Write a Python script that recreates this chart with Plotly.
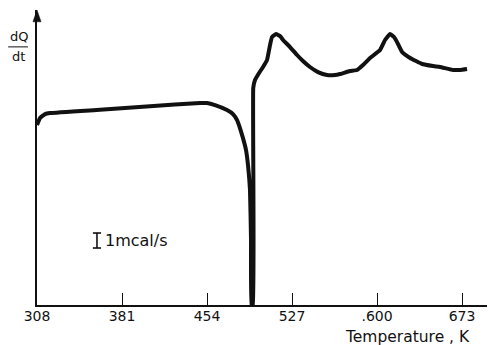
import plotly.graph_objects as go

# Temperature (K) and heat flow dQ/dt (mcal/s, arbitrary zero)
temperature = [308.0, 310.6, 314.9, 319.2, 362.1, 405.0, 448.0, 454.0, 460.9, 471.2,
               476.3, 479.8, 482.3, 484.9, 487.5, 489.2, 490.9, 491.8, 492.2, 493.5,
               493.7, 495.2, 498.7, 502.1, 505.5, 508.1, 509.8, 513.3, 516.7, 519.3,
               525.3, 531.3, 536.4, 542.4, 549.3, 557.0, 563.9, 568.2, 576.8, 582.8,
               588.0, 594.0, 602.6, 606.9, 611.2, 614.6, 617.2, 621.5, 628.4, 638.7,
               648.1, 654.1, 665.3, 671.3, 677.3]
heat_flow = [12.0, 12.47, 12.73, 12.8, 13.02, 13.25, 13.47, 13.47, 13.33, 13.0,
             12.73, 12.33, 11.8, 11.13, 10.33, 9.33, 7.67, 4.33, 0.0, 0.0,
             14.47, 15.0, 15.47, 15.87, 16.33, 17.33, 17.87, 18.07, 17.93, 17.67,
             17.2, 16.67, 16.27, 15.87, 15.53, 15.33, 15.33, 15.4, 15.6, 15.67,
             16.0, 16.47, 17.0, 17.67, 18.07, 17.87, 17.53, 16.87, 16.47, 16.07,
             15.93, 15.87, 15.67, 15.67, 15.73]

tick_vals = [308, 381, 454, 527, 600, 673]
tick_text = ["308", "381", "454", "527", ".600", "673"]

x_range = [308, 695.3]
y_range = [0, 19.67]

# scale bar: 1 mcal/s
scale_x = 359.5
scale_y0 = 3.8
scale_len = 1.0

FONT = "DejaVu Sans"
INK = "#111111"

fig = go.Figure()
fig.add_trace(go.Scatter(x=temperature, y=heat_flow, mode="lines",
                         line=dict(color=INK, width=4, shape="spline", smoothing=0.3),
                         hoverinfo="skip", showlegend=False))

shapes = [
    # scale bar
    dict(type="line", xref="x", yref="y", x0=scale_x, x1=scale_x, y0=scale_y0, y1=scale_y0 + scale_len,
         line=dict(color=INK, width=1.6)),
    dict(type="line", xref="x", yref="y", x0=scale_x - 3.5, x1=scale_x + 3.5, y0=scale_y0, y1=scale_y0,
         line=dict(color=INK, width=1.6)),
    dict(type="line", xref="x", yref="y", x0=scale_x - 3.5, x1=scale_x + 3.5,
         y0=scale_y0 + scale_len, y1=scale_y0 + scale_len, line=dict(color=INK, width=1.6)),
    # dQ/dt fraction line
    dict(type="line", xref="paper", yref="paper", x0=-0.064, x1=-0.02, y0=0.875, y1=0.875,
         line=dict(color=INK, width=1)),
    # y-axis arrow head
    dict(type="path", xref="paper", yref="paper",
         path="M -0.009 0.96 L 0.009 0.96 L 0.0 1.0 Z", fillcolor=INK, line=dict(color=INK, width=0.5)),
    # x-axis arrow head
    dict(type="path", xref="paper", yref="paper",
         path="M 1.0 -0.01 L 1.0 0.01 L 1.013 0.0 Z", fillcolor=INK, line=dict(color=INK, width=0.5)),
]

annotations = [
    dict(text="dQ", xref="paper", yref="paper", x=-0.041, y=0.877, xanchor="center", yanchor="bottom",
         showarrow=False, font=dict(family=FONT, size=13, color=INK)),
    dict(text="dt", xref="paper", yref="paper", x=-0.041, y=0.873, xanchor="center", yanchor="top",
         showarrow=False, font=dict(family=FONT, size=13, color=INK)),
    dict(text="1mcal/s", xref="x", yref="y", x=scale_x + 5, y=scale_y0 + scale_len / 2,
         xanchor="left", yanchor="middle", showarrow=False, font=dict(family=FONT, size=16, color=INK)),
    dict(text="Temperature , K", xref="paper", yref="paper", x=0.965, y=-0.108,
         xanchor="right", yanchor="middle", showarrow=False, font=dict(family=FONT, size=15.5, color=INK)),
]

# the page body has an 8px margin, so the figure is sized to end at the window's edge
fig.update_layout(
    width=487, height=337,
    margin=dict(l=29, r=7, t=2, b=40, autoexpand=False),
    paper_bgcolor="white", plot_bgcolor="white",
    shapes=shapes, annotations=annotations,
    xaxis=dict(range=x_range, tickvals=tick_vals, ticktext=tick_text, ticks="inside", ticklen=12,
               tickwidth=1, tickcolor=INK, showline=True, linecolor=INK, linewidth=1.5,
               showgrid=False, zeroline=False, tickfont=dict(family=FONT, size=14, color=INK),
               ticklabelstandoff=-3, fixedrange=True, automargin=False),
    yaxis=dict(range=y_range, showticklabels=False, ticks="", showline=True, linecolor=INK,
               linewidth=1.5, showgrid=False, zeroline=False, fixedrange=True, automargin=False),
)

fig.write_html("out.html")
